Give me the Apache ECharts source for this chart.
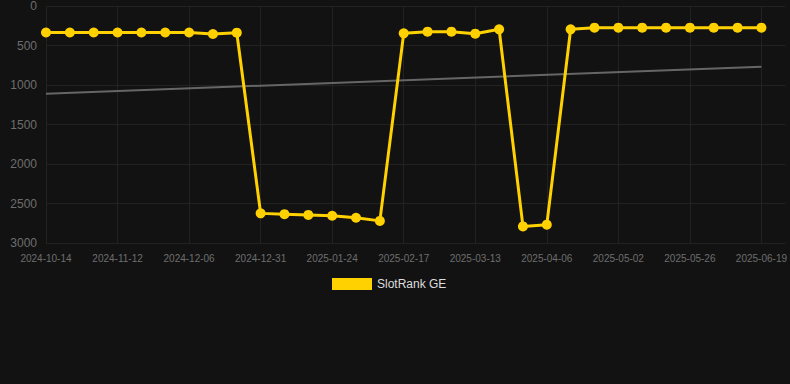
<!DOCTYPE html>
<html>
<head>
<meta charset="utf-8">
<script src="https://cdn.jsdelivr.net/npm/echarts@6/dist/echarts.min.js"></script>
<style>
  html, body { margin: 0; padding: 0; background: #121212; }
  #chart { width: 790px; height: 384px; }
</style>
</head>
<body>
<div id="chart"></div>
<script>
var dates = [
  '2024-10-14', '2024-10-24', '2024-11-03', '2024-11-12', '2024-11-20', '2024-11-28',
  '2024-12-06', '2024-12-14', '2024-12-22', '2024-12-31', '2025-01-08', '2025-01-16',
  '2025-01-24', '2025-02-01', '2025-02-09', '2025-02-17', '2025-02-25', '2025-03-05',
  '2025-03-13', '2025-03-21', '2025-03-29', '2025-04-06', '2025-04-14', '2025-04-23',
  '2025-05-02', '2025-05-10', '2025-05-18', '2025-05-26', '2025-06-03', '2025-06-11',
  '2025-06-19'
];
var rank = [
  336, 336, 336, 336, 336, 336, 336, 354, 338,
  2625, 2635, 2645, 2655, 2680, 2720,
  346, 325, 325, 350, 295,
  2790, 2768,
  295, 274, 274, 274, 274, 274, 274, 274, 274
];
// trend: only the two end values, joined straight across
var trend = [1110, null, null, null, null, null, null, null, null, null, null, null, null, null, null,
  null, null, null, null, null, null, null, null, null, null, null, null, null, null, null, 770];
var yTicks = { min: 0, max: 3000, interval: 500 };

var chart = echarts.init(document.getElementById('chart'), null, { renderer: 'svg' });
var gold = '#FFD100', muted = '#6e6e6e', rule = '#222222', font = 'Liberation Sans, Arial, sans-serif';

chart.setOption({
  backgroundColor: '#121212',
  animation: false,
  textStyle: { fontFamily: font },
  grid: { left: 46, right: 0, top: 6, bottom: 141 },
  legend: {
    data: ['SlotRank GE'],
    top: 273,
    left: 327,
    itemWidth: 40,
    itemHeight: 12,
    icon: 'rect',
    textStyle: { color: '#dddddd', fontSize: 12, fontFamily: font }
  },
  xAxis: {
    type: 'category',
    data: dates,
    boundaryGap: false,
    max: 31.22,
    axisLine: { show: false },
    axisTick: { show: false },
    axisLabel: { color: muted, fontSize: 10, interval: 2, margin: 10, fontFamily: font },
    splitLine: { show: true, interval: 2, lineStyle: { color: rule } }
  },
  yAxis: {
    type: 'value',
    inverse: true,
    min: yTicks.min,
    max: yTicks.max,
    interval: yTicks.interval,
    axisLine: { show: false },
    axisTick: { show: false },
    axisLabel: { color: muted, fontSize: 12, margin: 9, fontFamily: font, formatter: function (v) { return String(v); } },
    splitLine: { lineStyle: { color: rule } }
  },
  series: [
    {
      name: 'SlotRank GE',
      type: 'line',
      data: rank,
      symbol: 'circle',
      symbolSize: 10,
      lineStyle: { color: gold, width: 3 },
      itemStyle: { color: gold }
    },
    {
      name: 'trend',
      type: 'line',
      data: trend,
      connectNulls: true,
      symbol: 'none',
      lineStyle: { color: '#666666', width: 2 },
      z: 1
    }
  ]
});
</script>
</body>
</html>
